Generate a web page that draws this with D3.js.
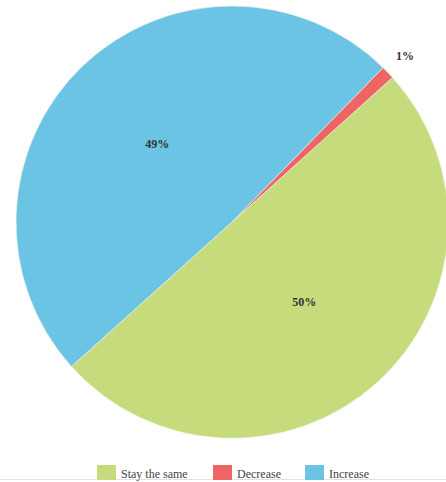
<!DOCTYPE html>
<html>
<head>
<meta charset="utf-8">
<script src="https://cdn.jsdelivr.net/npm/d3@7"></script>
<style>
  html, body { margin: 0; padding: 0; background: #ffffff; }
  svg { display: block; }
</style>
</head>
<body>
<svg id="chart" width="446" height="482"></svg>
<script>
// Survey answers and their shares (percent)
const categories = ["Stay the same", "Decrease", "Increase"];
const values = [50, 1, 49];
const labels = ["50%", "1%", "49%"];
const colors = ["#c6dc7c", "#ef6464", "#6bc4e4"];

const svg = d3.select("#chart");
const width = 446, height = 482;
const cx = 232, cy = 222, radius = 216;

const deg = Math.PI / 180;
// Slices run counter-clockwise from the lower-left edge
const pie = d3.pie()
  .sort(null)
  .value(d => d.value)
  .startAngle(228 * deg)
  .endAngle((228 - 360) * deg);

const data = categories.map((c, i) => ({ name: c, value: values[i], label: labels[i], color: colors[i] }));
const arcs = pie(data);

const arc = d3.arc().innerRadius(0).outerRadius(radius);
const labelArc = d3.arc().innerRadius(radius * 0.5).outerRadius(radius * 0.5);
const outerLabelArc = d3.arc().innerRadius(radius * 1.11).outerRadius(radius * 1.11);

const g = svg.append("g").attr("transform", `translate(${cx},${cy})`);

g.selectAll("path.slice")
  .data(arcs)
  .join("path")
  .attr("class", "slice")
  .attr("d", arc)
  .attr("fill", d => d.data.color)
  .attr("stroke", "#f4f8ee")
  .attr("stroke-width", 0.6);

g.selectAll("text.pct")
  .data(arcs)
  .join("text")
  .attr("class", "pct")
  .attr("transform", d => {
    const small = (d.endAngle - d.startAngle) ** 2 < 0.01;
    const p = small ? outerLabelArc.centroid(d) : labelArc.centroid(d);
    return `translate(${p[0]},${p[1]})`;
  })
  .attr("text-anchor", "middle")
  .attr("dy", "0.35em")
  .attr("font-family", "'Liberation Serif', 'DejaVu Serif', serif")
  .attr("font-size", 12)
  .attr("font-weight", "bold")
  .attr("fill", "#333333")
  .text(d => d.data.label);

// Faint rule along the bottom edge
svg.append("line")
  .attr("x1", 0).attr("x2", width)
  .attr("y1", 479.5).attr("y2", 479.5)
  .attr("stroke", "#e2e2e2")
  .attr("stroke-width", 1);

// Legend along the bottom
const legendX = [97, 213, 305];
const legend = svg.append("g").attr("class", "legend");
const items = legend.selectAll("g")
  .data(data)
  .join("g")
  .attr("transform", (d, i) => `translate(${legendX[i]},465)`);

items.append("rect")
  .attr("width", 19)
  .attr("height", 15)
  .attr("fill", d => d.color);

items.append("text")
  .attr("x", 24)
  .attr("y", 9)
  .attr("dy", "0.35em")
  .attr("font-family", "'Liberation Serif', 'DejaVu Serif', serif")
  .attr("font-size", 12)
  .attr("fill", "#444444")
  .text(d => d.name);
</script>
</body>
</html>
